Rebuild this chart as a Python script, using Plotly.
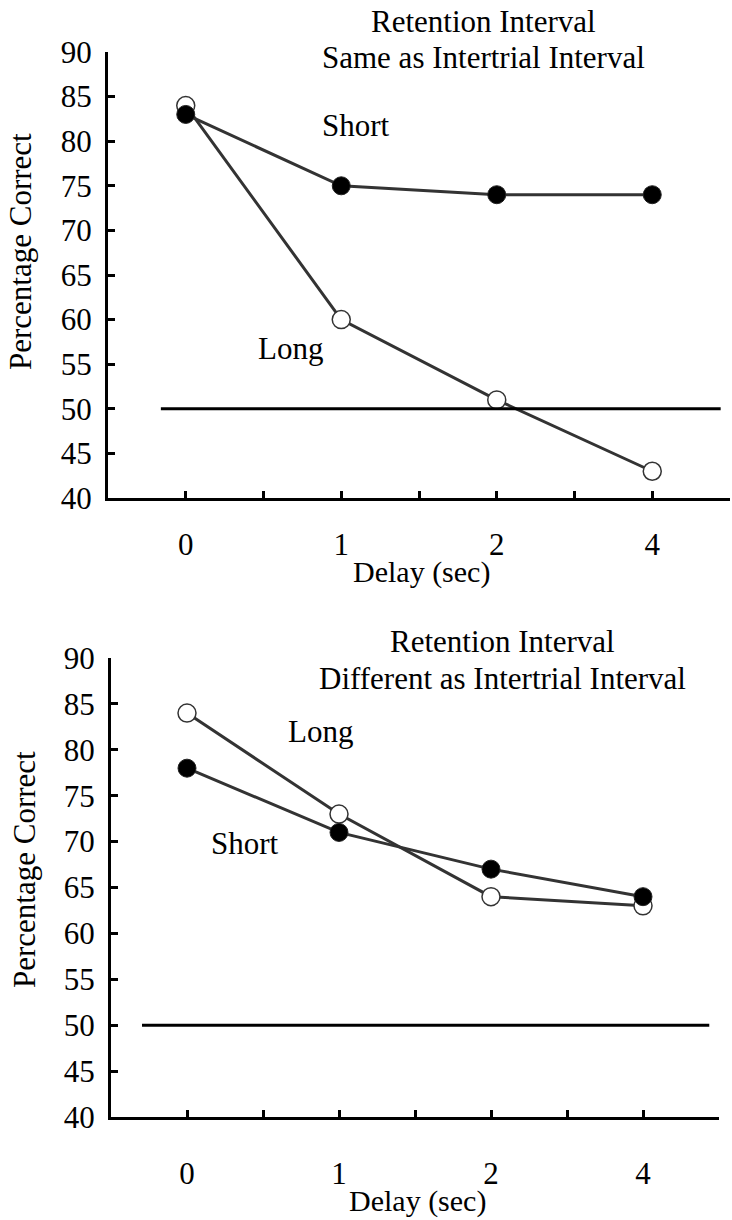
import plotly.graph_objects as go

W, H = 732, 1220

# ---- data ----
delay_labels = ["0", "1", "2", "4"]
delay_pos = [0, 1, 2, 3]

same_short = [83, 75, 74, 74]
same_long = [84, 60, 51, 43]

diff_short = [78, 71, 67, 64]
diff_long = [84, 73, 64, 63]

chance_level = 50
y_ticks = [40, 45, 50, 55, 60, 65, 70, 75, 80, 85, 90]

titles_top = ["Retention Interval", "Same as Intertrial Interval"]
titles_bottom = ["Retention Interval", "Different as Intertrial Interval"]

FONT = "Liberation Serif"
FS = 31
LINE_COL = "#333333"


def px(x):
    return x / W


def py(y):
    return 1 - y / H


fig = go.Figure()

# panel pixel boxes: (left, right, top, bottom)
panels = [
    dict(box=(108, 730, 52, 498), short=same_short, long=same_long, xa="x", ya="y",
         titles=titles_top, tpos=[(484, 21), (484, 58)],
         labels=[("Short", 356, 125), ("Long", 290, 348)],
         line_ext=(0.085, 0.985), lbl_stand=17, xt_y=572, yt=(21, 252)),
    dict(box=(111, 719, 658, 1117), short=diff_short, long=diff_long, xa="x2", ya="y2",
         titles=titles_bottom, tpos=[(502, 641), (502, 678)],
         labels=[("Long", 320, 731), ("Short", 245, 844)],
         line_ext=(0.051, 0.984), lbl_stand=27, xt_y=1201, yt=(24, 870)),
]

annotations = []
shapes = []
for i, p in enumerate(panels):
    l, r, t, b = p["box"]
    # long (open) first, short (filled) on top
    fig.add_trace(go.Scatter(
        x=delay_pos, y=p["long"], mode="lines+markers", xaxis=p["xa"], yaxis=p["ya"],
        line=dict(color=LINE_COL, width=3),
        marker=dict(symbol="circle", size=18, color="white",
                    line=dict(color=LINE_COL, width=1.5)),
        showlegend=False, cliponaxis=False))
    fig.add_trace(go.Scatter(
        x=delay_pos, y=p["short"], mode="lines+markers", xaxis=p["xa"], yaxis=p["ya"],
        line=dict(color=LINE_COL, width=3),
        marker=dict(symbol="circle", size=18, color="black",
                    line=dict(color="#222222", width=1)),
        showlegend=False, cliponaxis=False))

    xname = "xaxis" if i == 0 else "xaxis2"
    yname = "yaxis" if i == 0 else "yaxis2"
    fig.update_layout(**{
        xname: dict(domain=[px(l), px(r)], anchor=p["ya"], range=[-0.5, 3.5],
                    tickmode="array",
                    tickvals=[v / 2 for v in range(0, 8)],
                    ticktext=[delay_labels[v // 2] if v % 2 == 0 else "" for v in range(0, 8)],
                    ticks="inside", ticklen=7, tickwidth=2.5, tickcolor="black",
                    showline=True, linecolor="black", linewidth=3,
                    showgrid=False, zeroline=False, automargin=False,
                    ticklabelstandoff=p["lbl_stand"],
                    tickfont=dict(family=FONT, size=FS, color="black")),
        yname: dict(domain=[py(b), py(t)], anchor=p["xa"], range=[40, 90],
                    tickmode="array", tickvals=y_ticks,
                    ticks="inside", ticklen=7, tickwidth=2.5, tickcolor="black",
                    showline=True, linecolor="black", linewidth=3,
                    showgrid=False, zeroline=False, automargin=False,
                    ticklabelstandoff=7,
                    tickfont=dict(family=FONT, size=FS, color="black")),
    })

    # chance line
    shapes.append(dict(type="line", xref=f"{p['xa']} domain", yref=p["ya"],
                       x0=p["line_ext"][0], x1=p["line_ext"][1],
                       y0=chance_level, y1=chance_level,
                       line=dict(color="black", width=3)))

    for txt, (tx, ty) in zip(p["titles"], p["tpos"]):
        annotations.append(dict(text=txt, x=px(tx), y=py(ty),
                                xref="paper", yref="paper",
                                xanchor="center", yanchor="middle", align="center",
                                showarrow=False, borderpad=0,
                                font=dict(family=FONT, size=FS, color="black")))
    for txt, lx, ly in p["labels"]:
        annotations.append(dict(text=txt, x=px(lx), y=py(ly), xref="paper", yref="paper",
                                xanchor="center", yanchor="middle", showarrow=False,
                                font=dict(family=FONT, size=FS, color="black")))
    # axis titles
    annotations.append(dict(text="Delay (sec)", x=px((l + r) / 2 + 2), y=py(p["xt_y"]),
                            xref="paper", yref="paper", xanchor="center", yanchor="middle",
                            showarrow=False, font=dict(family=FONT, size=30, color="black")))
    annotations.append(dict(text="Percentage Correct", x=px(p["yt"][0]), y=py(p["yt"][1]),
                            xref="paper", yref="paper", xanchor="center", yanchor="middle",
                            textangle=-90, showarrow=False,
                            font=dict(family=FONT, size=FS, color="black")))

fig.update_layout(width=W, height=H, margin=dict(l=0, r=0, t=0, b=0),
                  paper_bgcolor="white", plot_bgcolor="white",
                  annotations=annotations, shapes=shapes, showlegend=False)

fig.write_html("out.html")
